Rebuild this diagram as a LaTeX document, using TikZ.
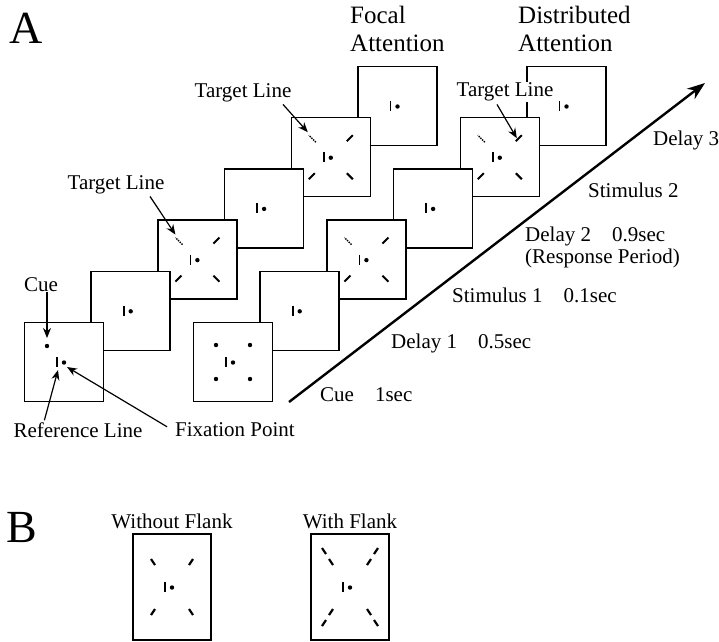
\documentclass[tikz,border=0pt]{standalone}
\usepackage{fontspec}
\setmainfont{Liberation Serif}
\usetikzlibrary{calc, arrows.meta, positioning}

\tikzset{
  frame/.style={draw, fill=white, line width=1.5pt, minimum size=79pt, inner sep=0pt},
  tall/.style={frame, minimum width=78pt, minimum height=106pt},
  lbl/.style={font=\fontsize{21}{22}\selectfont, inner sep=0pt},
  head/.style={font=\fontsize{25}{28}\selectfont, align=left, inner sep=0pt},
  panel/.style={font=\fontsize{46}{46}\selectfont, inner sep=0pt},
  pointer/.style={-{Stealth[length=10pt,width=8pt]}, line width=1.2pt},
  timeline/.style={-{Stealth[length=18pt,width=13pt]}, line width=2.4pt},
  fixation/.pic={
    \draw[line width=1.8pt] (-7,-5) -- (-7,5);
    \fill (0,0.5) circle (2.2);
  },
  stimulus/.pic={
    \draw[line width=2pt] (16,-16) -- (22,-22);
    \draw[line width=2pt] (16,16) -- (22,22);
    \draw[line width=2pt] (-16,16) -- (-22,22);
    \draw[line width=1.4pt, densely dotted] (-15,-15) -- (-22,-22);
  },
  cuedots/.pic={
    \foreach \sx in {-17,17}
      \foreach \sy in {-17,17}
        \fill (\sx,\sy) circle (2.2);
  },
  inner/.pic={
    \foreach \sx in {-1,1}
      \foreach \sy in {-1,1}
        \draw[line width=2.2pt] (17*\sx,22*\sy) -- (21*\sx,28*\sy);
  },
  flank/.pic={
    \foreach \sx in {-1,1}
      \foreach \sy in {-1,1}
        \draw[line width=2.2pt] (24*\sx,33*\sy) -- (28*\sx,39*\sy);
  }
}

\begin{document}
\begin{tikzpicture}[x=1pt, y=-1pt]
  \useasboundingbox (0,0) rectangle (719,641);

  % panel A: two stacks of frames, back to front
  \foreach \i in {6,...,1} {
    \node[frame] (L\i) at ({64+66.7*(\i-1)},{362-51.2*(\i-1)}) {};
    \node[frame] (R\i) at ({233+66.7*(\i-1)},{362-51.2*(\i-1)}) {};
  }

  \node[panel] (A) at (26,28) {A};
  \node[head, anchor=north west] (focal) at (350,6) {Focal\\Attention};
  \node[head, anchor=north west] (distr) at (518,6) {Distributed\\Attention};

  % frame contents
  \pic at (L1) {fixation};
  \fill ($(L1)+(-17,-16)$) circle (2.2);
  \pic at (L2) {fixation};
  \pic at (L3) {stimulus};
  \pic at (L3) {fixation};
  \pic at (L4) {fixation};
  \pic at (L5) {stimulus};
  \pic at (L5) {fixation};
  \pic at (L6) {fixation};

  \pic at (R1) {cuedots};
  \pic at (R1) {fixation};
  \pic at (R2) {fixation};
  \pic at (R3) {stimulus};
  \pic at (R3) {fixation};
  \pic at (R4) {fixation};
  \pic at (R5) {stimulus};
  \pic at (R5) {fixation};
  \pic at (R6) {fixation};

  % pointers
  \node[lbl] (cue) at (41,285) {Cue};
  \coordinate (cuept) at ($(L1)+(-17,-24)$);
  \draw[pointer] (cue.south -| cuept) -- (cuept);

  \node[lbl] (refl) at (78,430) {Reference Line};
  \coordinate (refpt) at ($(L1)+(-6,8)$);
  \draw[pointer] ($(refl.north west)+(31,-2)$) -- (refpt);

  \node[lbl] (fixl) at (235,430) {Fixation Point};
  \coordinate (fixpt) at ($(L1)+(3,5)$);
  \draw[pointer] ($(fixl.north west)+(-8,4)$) -- (fixpt);

  \node[lbl] (tgta) at (116,185) {Target Line};
  \coordinate (tgtpta) at ($(L3)+(-22,-25)$);
  \draw[pointer] ($(tgta.south)+(34,2)$) -- (tgtpta);

  \node[lbl] (tgtb) at (243,93) {Target Line};
  \coordinate (tgtptb) at ($(L5)+(-23,-25)$);
  \draw[pointer] ($(tgtb.south)+(40,2)$) -- (tgtptb);

  \node[lbl, fill=white, inner sep=1pt] (tgtc) at (505,92) {Target Line};
  \coordinate (tgtptc) at ($(R5)+(17,-19)$);
  \draw[pointer] ($(tgtc.south)+(-8,2)$) -- (tgtptc);

  % time axis
  \coordinate (t0) at (289,402);
  \coordinate (t1) at (705,83);
  \draw[timeline] (t0) -- (t1);

  \node[lbl, anchor=west] (cuetime) at (320,395) {Cue\quad 1sec};
  \node[lbl, anchor=west] (delayone) at (391,343) {Delay 1\quad 0.5sec};
  \node[lbl, anchor=west] (stimone) at (452,295) {Stimulus 1\quad 0.1sec};
  \node[lbl, anchor=north west, align=left] (delaytwo) at (525,227) {Delay 2\quad 0.9sec\\(Response Period)};
  \node[lbl, anchor=west] (stimtwo) at (588,190) {Stimulus 2};
  \node[lbl, anchor=west] (delaythree) at (653,140) {Delay 3};

  % panel B
  \node[panel] (B) at (22,527) {B};
  \node[tall] (B1) at (172,587) {};
  \node[tall] (B2) at (350,587) {};
  \node[lbl, above=4pt of B1] (without) {Without Flank};
  \node[lbl, above=4pt of B2] (with) {With Flank};
  \pic at (B1) {inner};
  \pic at (B1) {fixation};
  \pic at (B2) {inner};
  \pic at (B2) {flank};
  \pic at (B2) {fixation};
\end{tikzpicture}
\end{document}
